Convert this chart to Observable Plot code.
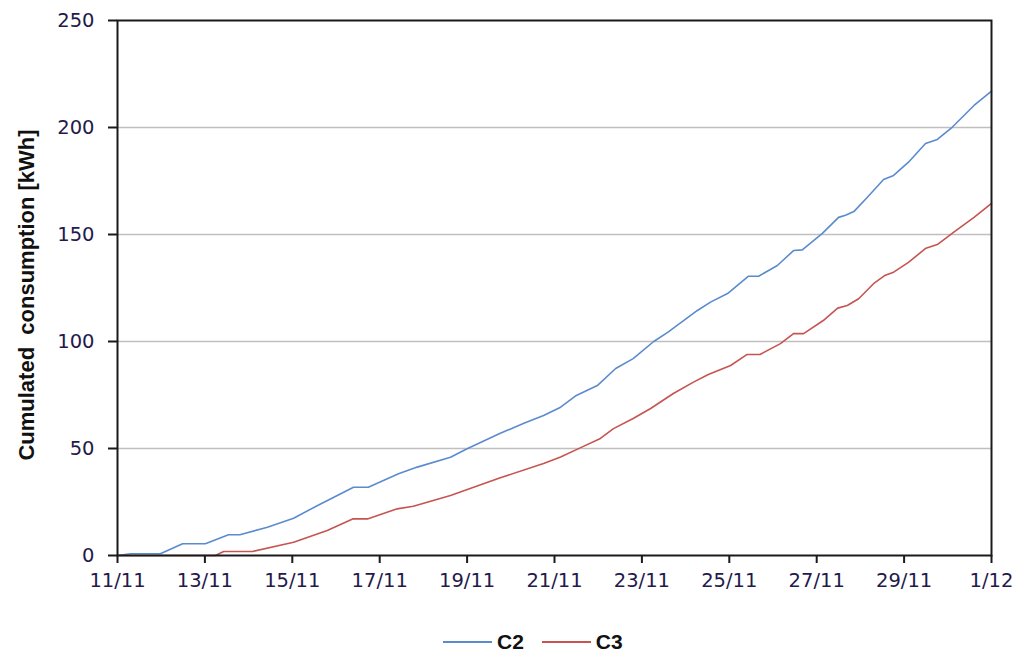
<!DOCTYPE html>
<html>
<head>
<meta charset="utf-8">
<script src="https://cdn.jsdelivr.net/npm/d3@7"></script>
<script src="https://cdn.jsdelivr.net/npm/@observablehq/plot@0.6"></script>
<style>
  html, body { margin: 0; padding: 0; background: white; }
  #wrap { position: relative; width: 1024px; height: 664px; }
  #legend { position: absolute; left: 443px; top: 630px; display: flex; align-items: center;
            font-family: "Liberation Sans", Arial, sans-serif; font-size: 21px; font-weight: bold; color: #111; }
  #legend .sw { display: inline-block; width: 49px; height: 2px; margin-right: 5px; }
  #legend .it { display: flex; align-items: center; margin-right: 18px; }
</style>
</head>
<body>
<div id="wrap"><div id="chart"></div><div id="legend"></div></div>
<script>
// Day offsets from 11/11 and cumulated consumption (kWh)
const c2Day   = [0, 0.3, 0.98, 1.49, 2.01, 2.54, 2.8, 3.43, 4.03, 4.58, 5.03, 5.4, 5.74, 6.43, 6.86, 7.62, 8.0, 8.76, 9.3, 9.75, 10.14, 10.5, 10.98, 11.4, 11.8, 12.27, 12.59, 13.27, 13.57, 13.96, 14.44, 14.67, 14.9, 15.1, 15.47, 15.67, 16.13, 16.5, 16.66, 16.85, 17.16, 17.53, 17.76, 18.1, 18.49, 18.76, 19.1, 19.6, 20];
const c2Value = [0, 0.8, 0.8, 5.5, 5.5, 9.7, 9.7, 13.2, 17.4, 23.4, 28, 31.9, 31.9, 38.2, 41.3, 45.9, 49.9, 57.1, 61.8, 65.4, 69.3, 74.8, 79.4, 87.4, 92, 100, 104.3, 114.5, 118.4, 122.4, 130.5, 130.5, 133.2, 135.5, 142.5, 142.8, 150.5, 158, 159, 160.7, 167.4, 175.7, 177.6, 183.8, 192.5, 194.4, 200.1, 210.3, 217];
const c3Day   = [0, 2.24, 2.43, 3.09, 4.03, 4.8, 5.38, 5.72, 6.4, 6.77, 7.62, 8.76, 9.75, 10.14, 10.6, 11.05, 11.35, 11.8, 12.2, 12.72, 13.18, 13.52, 14.03, 14.4, 14.7, 15.17, 15.47, 15.7, 16.15, 16.48, 16.7, 16.96, 17.3, 17.57, 17.76, 18.1, 18.5, 18.76, 19.13, 19.6, 20];
const c3Value = [0, 0, 1.9, 1.9, 6.2, 11.7, 17.1, 17.1, 21.8, 23, 28, 36.3, 43, 46, 50.4, 54.7, 59.3, 64, 68.7, 75.7, 81, 84.6, 88.8, 93.9, 93.9, 99, 103.7, 103.7, 109.8, 115.6, 116.8, 120, 127, 131, 132.4, 137, 143.6, 145.3, 151, 158, 164.6];
const seriesNames = ["C2", "C3"];
const seriesColors = ["#5b8bcf", "#c65451"];
const yTicks = [0, 50, 100, 150, 200, 250];
const gridValues = [50, 100, 150, 200];
const yLabel = "Cumulated  consumption [kWh]";

const start = Date.UTC(2009, 10, 11);
const toDate = d => new Date(start + d * 864e5);
const xTicks = d3.range(0, 21, 2).map(toDate);

const data = [
  ...c2Day.map((d, i) => ({series: "C2", date: toDate(d), value: c2Value[i]})),
  ...c3Day.map((d, i) => ({series: "C3", date: toDate(d), value: c3Value[i]}))
];

const chart = Plot.plot({
  width: 1024,
  height: 605,
  marginLeft: 117,
  marginRight: 33,
  marginTop: 20,
  marginBottom: 50,
  style: {fontFamily: "DejaVu Sans, sans-serif", fontSize: "19.5px", color: "#24194a", background: "white", overflow: "visible"},
  x: {type: "time", domain: [toDate(0), toDate(20)]},
  y: {domain: [0, 250]},
  color: {domain: seriesNames, range: seriesColors},
  marks: [
    Plot.gridY(gridValues, {stroke: "#bfbfbf", strokeOpacity: 1, strokeWidth: 1.6}),
    Plot.line(data, {x: "date", y: "value", z: "series", stroke: "series", strokeWidth: 1.6}),
    Plot.frame({stroke: "#1a1a1a", strokeWidth: 2}),
    Plot.axisX({ticks: xTicks, tickFormat: d3.utcFormat("%-d/%-m"), tickSize: 8, tickPadding: 10, stroke: "#1a1a1a", strokeWidth: 2, label: null}),
    Plot.axisY({ticks: yTicks, tickSize: 9, tickPadding: 14, stroke: "#1a1a1a", strokeWidth: 2, label: null}),
    Plot.text([yLabel], {frameAnchor: "left", dx: -91, dy: 7, rotate: -90, textAnchor: "middle", fontFamily: "Liberation Sans, Arial, sans-serif", fontWeight: "bold", fontSize: 22, fill: "#111"})
  ]
});
document.getElementById("chart").appendChild(chart);

const legend = document.getElementById("legend");
seriesNames.forEach((n, i) => {
  const it = document.createElement("span");
  it.className = "it";
  it.innerHTML = `<span class="sw" style="background:${seriesColors[i]}"></span><span>${n}</span>`;
  legend.appendChild(it);
});
</script>
</body>
</html>
